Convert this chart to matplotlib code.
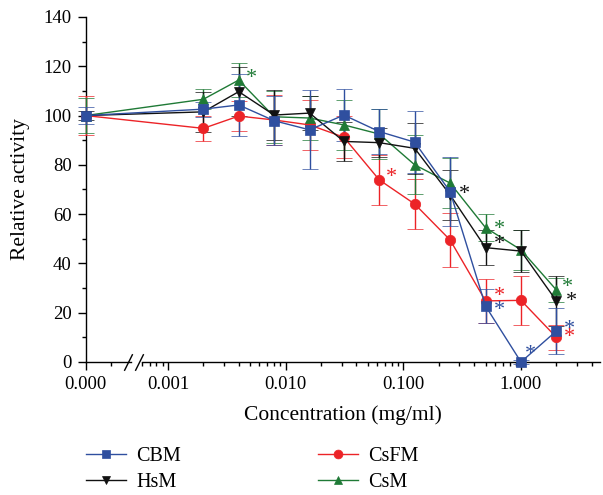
import numpy as np
import matplotlib
matplotlib.use('Agg')
import matplotlib.pyplot as plt
from matplotlib.ticker import FixedLocator, NullFormatter

plt.rcParams['font.family'] = ['Liberation Serif', 'DejaVu Serif']

# concentrations (mg/ml), 0 is the control on the broken part of the axis
conc = [0, 0.002, 0.004, 0.008, 0.016, 0.03125, 0.0625, 0.125, 0.25, 0.5, 1, 2]

cbm = [100, 102.6, 104.3, 97.9, 94.2, 100.2, 93.5, 89.2, 69.1, 22.7, 0, 12.6]
cbm_err = [3.5, 3, 12.5, 10, 16, 10.6, 9.2, 12.7, 14, 7, 1, 9.5]
hsm = [100, 101.5, 109.7, 100.2, 101, 89.5, 89, 86.7, 67.8, 46.4, 45, 24.8]
hsm_err = [2, 8, 10, 10, 7, 8, 6, 10.4, 10, 7, 8.5, 10]
csfm = [100, 94.8, 99.8, 98.2, 96.2, 91.2, 73.9, 64.1, 49.5, 24.8, 25, 10]
csfm_err = [8, 5, 6, 10, 10, 8.5, 10, 10, 11, 9, 10, 5]
csm = [100, 106.6, 114.4, 99.5, 99, 96.2, 92.5, 80, 72.6, 54.5, 45.5, 29.2]
csm_err = [7, 4, 7, 10.5, 9, 10, 10, 12, 10, 5.5, 8, 5]

# significant points (series, concentration)
signif = [('CsM', 0.004), ('CsFM', 0.0625), ('HsM', 0.25),
          ('CsM', 0.5), ('HsM', 0.5), ('CsFM', 0.5), ('CBM', 0.5),
          ('CBM', 1), ('CsM', 2), ('HsM', 2), ('CBM', 2), ('CsFM', 2)]

xticks = [0, 0.001, 0.01, 0.1, 1]
xticklabels = ['0.000', '0.001', '0.010', '0.100', '1.000']

# where to put each star relative to its point (pixels)
star_off = {('CsM', 0.004): (13, 6), ('CsFM', 0.0625): (12, 7), ('HsM', 0.25): (14, 5),
            ('CsM', 0.5): (14, 3), ('HsM', 0.5): (14, 8), ('CsFM', 0.5): (14, 9),
            ('CBM', 0.5): (14, 0), ('CBM', 1): (9, 12), ('CsM', 2): (11, 7),
            ('HsM', 2): (15, 4), ('CBM', 2): (13, 6), ('CsFM', 2): (13, 5)}

# segmented x scale: linear stub for 0, log scale from ~0.0005 upward
U0 = -3.70
LIN_MAX = 2e-4
SLOPE = 0.428 / LIN_MAX
U_SPLIT = U0 + 0.428

def fwd(x):
    x = np.asarray(x, dtype=float)
    lin = U0 + np.clip(x, 0, LIN_MAX) * SLOPE
    lg = np.log10(np.clip(x, 1e-12, None))
    return np.where(x <= LIN_MAX, lin, np.maximum(lg, U_SPLIT))

def inv(u):
    u = np.asarray(u, dtype=float)
    return np.where(u <= U_SPLIT, (u - U0) / SLOPE, 10.0 ** u)

fig = plt.figure(figsize=(6.03, 4.95), dpi=100)
ax = fig.add_axes([0.1418, 0.2687, 0.8532, 0.697])
ax.set_xscale('function', functions=(fwd, inv))

colors = {'CBM': '#2f4f9f', 'HsM': '#111111', 'CsFM': '#ec2327', 'CsM': '#1f7a36'}
markers = {'CBM': 's', 'HsM': 'v', 'CsFM': 'o', 'CsM': '^'}
series = {'CBM': (cbm, cbm_err), 'HsM': (hsm, hsm_err),
          'CsFM': (csfm, csfm_err), 'CsM': (csm, csm_err)}

handles = {}
for name in ['CsFM', 'CsM', 'HsM', 'CBM']:
    y, e = series[name]
    c = colors[name]
    eb = ax.errorbar(conc, y, yerr=e, color=c, ecolor=c, elinewidth=1.0,
                     capsize=5.5, capthick=1.0, marker=markers[name], markersize=7.5,
                     markeredgewidth=0.5, linewidth=1.0, clip_on=False, zorder=3)
    handles[name] = eb.lines[0]

for name, cx in signif:
    y = series[name][0][conc.index(cx)]
    dx, dy = star_off[(name, cx)]
    ax.annotate('*', (cx, y), xytext=(dx * 0.72, dy * 0.72 - 3.5), textcoords='offset points',
                ha='center', va='center', fontsize=16, color=colors[name], zorder=4)

ax.set_xlim(0, 4.69)
ax.set_ylim(0, 140)
ax.set_yticks(np.arange(0, 141, 20))
ax.yaxis.set_minor_locator(FixedLocator(np.arange(10, 140, 20)))

ax.xaxis.set_major_locator(FixedLocator(xticks))
ax.set_xticklabels(xticklabels)
minors = [1e-4, 6e-4, 7e-4, 8e-4, 9e-4]
for dec in [0.001, 0.01, 0.1, 1]:
    for k in range(2, 10):
        if dec * k < 4.69:
            minors.append(dec * k)
ax.xaxis.set_minor_locator(FixedLocator(minors))
ax.xaxis.set_minor_formatter(NullFormatter())

ax.tick_params(which='major', direction='out', length=6, width=1, labelsize=13.5, pad=4)
ax.tick_params(which='minor', direction='out', length=3, width=1)

ax.spines['top'].set_visible(False)
ax.spines['right'].set_visible(False)
ax.spines['bottom'].set_visible(False)
ax.spines['left'].set_linewidth(1)

# broken x axis line
tr = ax.get_xaxis_transform()
ax.plot([0, 1.8e-4], [0, 0], color='black', lw=1, transform=tr, clip_on=False, zorder=2)
ax.plot([6.0e-4, 4.69], [0, 0], color='black', lw=1, transform=tr, clip_on=False, zorder=2)
for bx in [1.7e-4, 5.7e-4]:
    ax.plot([bx], [0], transform=tr, marker=[(-1, -2), (1, 2)], markersize=12,
            color='black', mew=1, linestyle='none', clip_on=False, zorder=2)

ax.set_xlabel('Concentration (mg/ml)', fontsize=15.5, labelpad=9)
ax.set_ylabel('Relative activity', fontsize=15.5, labelpad=10)

leg = fig.legend([handles['CBM'], handles['HsM'], handles['CsFM'], handles['CsM']],
                 ['CBM', 'HsM', 'CsFM', 'CsM'], ncol=2, frameon=False,
                 loc='upper left', bbox_to_anchor=(0.142, 0.097), fontsize=14.5,
                 handlelength=2.0, handletextpad=0.5, columnspacing=6.8,
                 labelspacing=0.33, markerscale=0.85, borderpad=0, borderaxespad=0)

fig.savefig('out.png', dpi=100)
